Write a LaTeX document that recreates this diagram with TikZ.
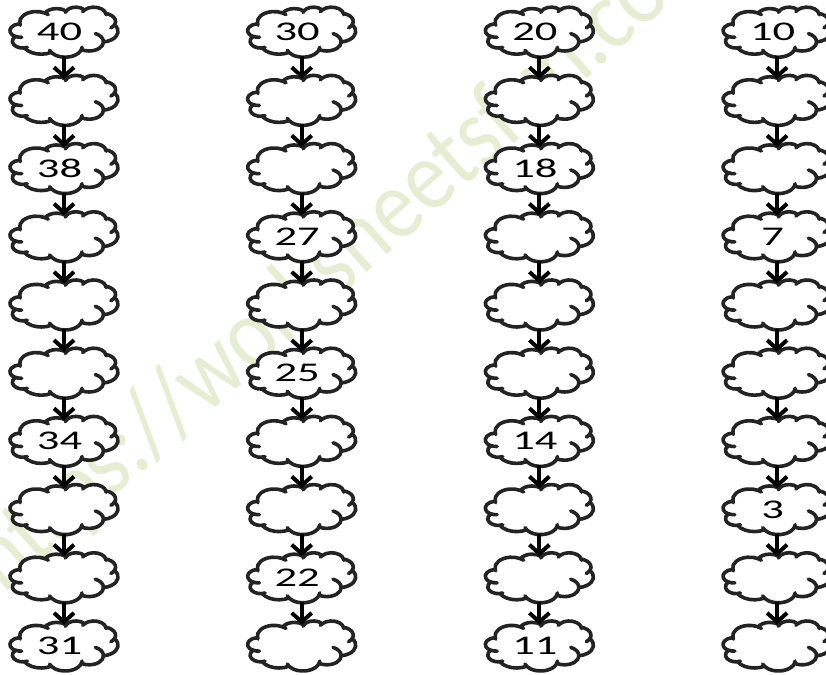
\documentclass[tikz,border=0pt]{standalone}
\usepackage{fontspec}
\setmainfont{Carlito}
\usepackage{graphicx}
\usetikzlibrary{arrows.meta}
\definecolor{cloudgray}{RGB}{35,35,35}
\definecolor{wmgreen}{RGB}{231,237,211}

% convert OOXML "visual" arc angles into parametric TikZ arc angles
\newcommand\ppcalc[5]{%
  \pgfmathsetmacro\ppS{atan2((#2)*sin(#4),(#3)*cos(#4))}%
  \pgfmathsetmacro\ppE{atan2((#2)*sin((#4)+(#5)),(#3)*cos((#4)+(#5)))}%
  \pgfmathsetmacro\ppD{mod((\ppE)-(\ppS)+720,360)}%
  \expandafter\let\csname pp#1s\endcsname\ppS
  \expandafter\let\csname pp#1d\endcsname\ppD}
% outline
\ppcalc{A}{6.753}{9.190}{-190.4875}{123.7805}
\ppcalc{B}{5.333}{7.267}{-144.1024}{89.9452}
\ppcalc{C}{4.365}{5.945}{-145.8079}{99.7230}
\ppcalc{D}{4.857}{6.595}{-130.9861}{117.2417}
\ppcalc{E}{5.333}{7.273}{-78.7089}{109.0269}
\ppcalc{F}{6.775}{9.220}{-46.2673}{130.2690}
\ppcalc{G}{5.785}{7.867}{0.6250}{114.0333}
\ppcalc{H}{6.752}{9.215}{22.4516}{115.1726}
\ppcalc{I}{7.720}{10.543}{66.2426}{75.7110}
\ppcalc{J}{4.360}{5.918}{-274.9421}{146.7356}
\ppcalc{K}{4.345}{5.945}{-246.8285}{152.5189}
% inner curls
\ppcalc{a}{4.345}{5.945}{86.7420}{26.4295}
\ppcalc{b}{4.360}{5.918}{73.6105}{11.4475}
\ppcalc{c}{6.752}{9.215}{137.6242}{14.0811}
\ppcalc{d}{6.752}{9.215}{6.4533}{15.9984}
\ppcalc{e}{5.785}{7.867}{-70.2924}{70.9174}
\ppcalc{f}{5.333}{7.273}{30.3180}{27.7515}
\ppcalc{g}{4.857}{6.595}{-13.7443}{14.8589}
\ppcalc{h}{4.857}{6.595}{-149.1815}{18.1954}
\ppcalc{i}{4.365}{5.945}{-163.4943}{17.8409}
\ppcalc{j}{6.753}{9.190}{-66.7070}{12.3194}
\ppcalc{k}{6.753}{9.190}{157.6544}{11.8582}

\def\blankmark{x}
\newcommand\numtxt[1]{\edef\numarg{#1}\ifx\numarg\blankmark\else\kern-9pt\scalebox{1.65}[1]{#1}\fi}

% one column of clouds: #1 = column index, #2 = labels (x = empty)
\newcommand\cloudcol[2]{%
  \foreach \t [count=\r from 0] in {#2} {
    \pic at ({64+237.7*#1},{32+68.2*\r}) {pptcloud};
    \node[cloudnode] (c#1x\r) at ({64+237.7*#1},{32+68.2*\r}) {\numtxt{\t}};
  }}

\tikzset{
  cloudline/.style={draw=cloudgray,line width=3.6pt,line join=round},
  cloudnode/.style={minimum width=108pt,minimum height=50pt,inner sep=0pt,
    font=\fontsize{27}{30}\selectfont,text=black},
  arrowline/.style={draw=black,line width=4pt,
    -{Straight Barb[length=9pt,width=20pt,line width=4pt]}},
  watermark/.style={text=wmgreen,font=\fontsize{87}{92}\selectfont},
  pics/pptcloud/.style={code={%
    \begin{scope}[x=2.5pt,y=-1.1574pt]
    \begin{scope}[shift={(-21.6,-21.6)}]
      \draw[cloudline,fill=white] (3.900,14.370)
        arc[start angle=\ppAs,delta angle=\ppAd,x radius=6.753,y radius=9.190]
        arc[start angle=\ppBs,delta angle=\ppBd,x radius=5.333,y radius=7.267]
        arc[start angle=\ppCs,delta angle=\ppCd,x radius=4.365,y radius=5.945]
        arc[start angle=\ppDs,delta angle=\ppDd,x radius=4.857,y radius=6.595]
        arc[start angle=\ppEs,delta angle=\ppEd,x radius=5.333,y radius=7.273]
        arc[start angle=\ppFs,delta angle=\ppFd,x radius=6.775,y radius=9.220]
        arc[start angle=\ppGs,delta angle=\ppGd,x radius=5.785,y radius=7.867]
        arc[start angle=\ppHs,delta angle=\ppHd,x radius=6.752,y radius=9.215]
        arc[start angle=\ppIs,delta angle=\ppId,x radius=7.720,y radius=10.543]
        arc[start angle=\ppJs,delta angle=\ppJd,x radius=4.360,y radius=5.918]
        arc[start angle=\ppKs,delta angle=\ppKd,x radius=4.345,y radius=5.945]
        -- cycle;
      \draw[cloudline,line cap=round]
        (4.693,26.177) arc[start angle=\ppas,delta angle=\ppad,x radius=4.345,y radius=5.945]
        (6.928,34.899) arc[start angle=\ppbs,delta angle=\ppbd,x radius=4.360,y radius=5.918]
        (16.478,39.090) arc[start angle=\ppcs,delta angle=\ppcd,x radius=6.752,y radius=9.215]
        (28.827,34.751) arc[start angle=\ppds,delta angle=\ppdd,x radius=6.752,y radius=9.215]
        (34.129,22.954) arc[start angle=\ppes,delta angle=\pped,x radius=5.785,y radius=7.867]
        (41.798,15.354) arc[start angle=\ppfs,delta angle=\ppfd,x radius=5.333,y radius=7.273]
        (38.324,5.426) arc[start angle=\ppgs,delta angle=\ppgd,x radius=4.857,y radius=6.595]
        (29.078,3.952) arc[start angle=\pphs,delta angle=\pphd,x radius=4.857,y radius=6.595]
        (22.141,4.720) arc[start angle=\ppis,delta angle=\ppid,x radius=4.365,y radius=5.945]
        (14.000,5.192) arc[start angle=\ppjs,delta angle=\ppjd,x radius=6.753,y radius=9.190]
        (4.127,15.789) arc[start angle=\ppks,delta angle=\ppkd,x radius=6.753,y radius=9.190];
    \end{scope}
    \end{scope}
  }}
}

\begin{document}
\begin{tikzpicture}[x=1pt,y=-1pt]
\useasboundingbox (0,0) rectangle (826,674);
\fill[white] (0,0) rectangle (826,674);

% watermark
\node[watermark,rotate=41.5,anchor=base west,inner sep=0pt]
  (wm) at (3,595) {\scalebox{1}[1.15]{https://worksheetsfun.com}};

% clouds with their numbers
\cloudcol{0}{40,x,38,x,x,x,34,x,x,31}
\cloudcol{1}{30,x,x,27,x,25,x,x,22,x}
\cloudcol{2}{20,x,18,x,x,x,14,x,x,11}
\cloudcol{3}{10,x,x,7,x,x,x,3,x,x}

% arrows
\foreach \c in {0,1,2,3}{
  \foreach \r [evaluate=\r as \s using int(\r+1)] in {0,...,8}{
    \draw[arrowline,shorten <=-1pt,shorten >=-4pt] (c\c x\r.south) -- (c\c x\s.north);
  }
}
\end{tikzpicture}
\end{document}
